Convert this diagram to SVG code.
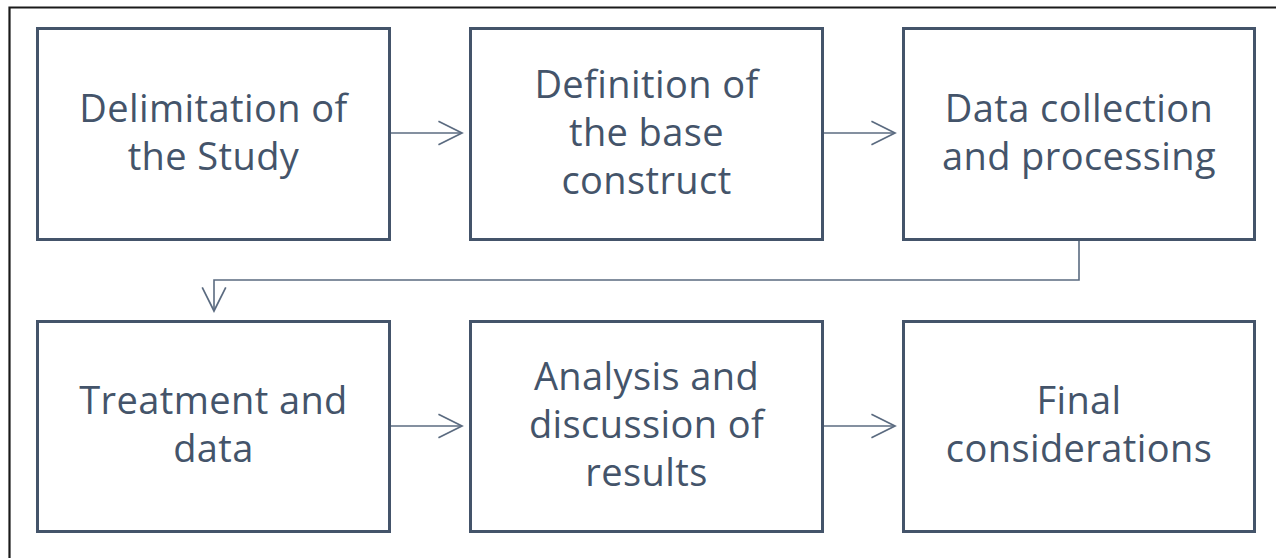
<svg xmlns="http://www.w3.org/2000/svg" width="1276" height="558" viewBox="0 0 1276 558">
  <style>
    .box { fill: #ffffff; stroke: #44546a; stroke-width: 3; }
    .label { font-family: "Open Sans", "Liberation Sans", sans-serif; font-size: 38px; letter-spacing: 0.4px; fill: #44546a; text-anchor: middle; }
    .conn { fill: none; stroke: #5b6b80; stroke-width: 1.6; }
  </style>
  <defs>
    <marker id="head" markerUnits="userSpaceOnUse" markerWidth="30" markerHeight="30" viewBox="-24 -13 28 26" refX="0" refY="0" orient="auto">
      <path d="M-22,-11 L0,0 L-22,11" fill="none" stroke="#5b6b80" stroke-width="1.6"/>
    </marker>
  </defs>

  <rect width="1276" height="558" fill="#ffffff"/>
  <!-- outer frame -->
  <path d="M9.5,558 V7.5 H1276" fill="none" stroke="#1a1a1a" stroke-width="2.2"/>

  <g id="connectors">
    <path class="conn" d="M390,133 H462" marker-end="url(#head)"/>
    <path class="conn" d="M823,133 H895" marker-end="url(#head)"/>
    <path class="conn" d="M1079,240 V280 H214 V311" marker-end="url(#head)"/>
    <path class="conn" d="M390,426 H462" marker-end="url(#head)"/>
    <path class="conn" d="M823,426 H895" marker-end="url(#head)"/>
  </g>

  <g id="n1">
    <rect class="box" x="37.5" y="28.5" width="352" height="211"/>
    <text class="label" x="213.5" y="122">Delimitation of</text>
    <text class="label" x="213.5" y="170">the Study</text>
  </g>
  <g id="n2">
    <rect class="box" x="470.5" y="28.5" width="352" height="211"/>
    <text class="label" x="646.5" y="98">Definition of</text>
    <text class="label" x="646.5" y="146">the base</text>
    <text class="label" x="646.5" y="194">construct</text>
  </g>
  <g id="n3">
    <rect class="box" x="903.5" y="28.5" width="351" height="211"/>
    <text class="label" x="1079" y="122">Data collection</text>
    <text class="label" x="1079" y="170">and processing</text>
  </g>
  <g id="n4">
    <rect class="box" x="37.5" y="321.5" width="352" height="210"/>
    <text class="label" x="213.5" y="414">Treatment and</text>
    <text class="label" x="213.5" y="462">data</text>
  </g>
  <g id="n5">
    <rect class="box" x="470.5" y="321.5" width="352" height="210"/>
    <text class="label" x="646.5" y="390">Analysis and</text>
    <text class="label" x="646.5" y="438">discussion of</text>
    <text class="label" x="646.5" y="486">results</text>
  </g>
  <g id="n6">
    <rect class="box" x="903.5" y="321.5" width="351" height="210"/>
    <text class="label" x="1079" y="414">Final</text>
    <text class="label" x="1079" y="462">considerations</text>
  </g>
</svg>
